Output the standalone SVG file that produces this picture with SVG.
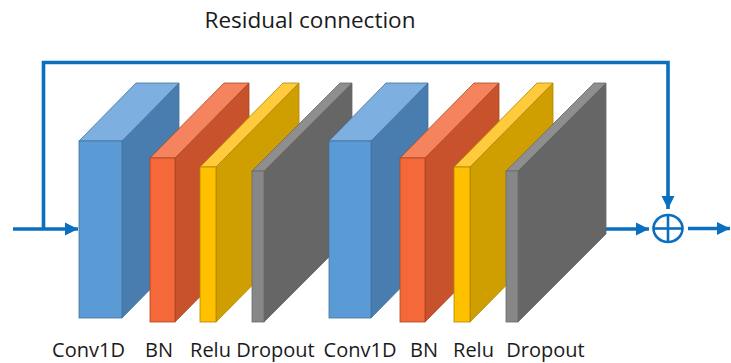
<svg xmlns="http://www.w3.org/2000/svg" width="731" height="363" viewBox="0 0 731 363">
<defs>
<style>
.lbl{font-family:"Open Sans","Liberation Sans",sans-serif;font-size:20px;fill:#1a1a1a;text-anchor:middle}
.title{font-family:"Open Sans","Liberation Sans",sans-serif;font-size:22.5px;fill:#1a1a1a;text-anchor:middle}
.conn{fill:none;stroke:#0B6FC0;stroke-width:3.6}
.blue .f{fill:#5B9BD5}.blue .t{fill:#7DB0E0}.blue .s{fill:#4A7DAF}.blue *{stroke:#41719C;stroke-width:0.8}
.orange .f{fill:#F4683A}.orange .t{fill:#F5845E}.orange .s{fill:#C7522B}.orange *{stroke:#A9461F;stroke-width:0.8}
.yellow .f{fill:#FFC000}.yellow .t{fill:#FFCB3C}.yellow .s{fill:#CF9E00}.yellow *{stroke:#B08600;stroke-width:0.8}
.gray .f{fill:#878787}.gray .t{fill:#8E8E8E}.gray .s{fill:#666666}.gray *{stroke:#6A6A6A;stroke-width:0.8}
</style>
<marker id="ah" markerUnits="userSpaceOnUse" markerWidth="14" markerHeight="14" viewBox="0 0 14 14" refX="13" refY="7" orient="auto">
<path d="M0,0.5 L13,7 L0,13.5 Z" fill="#0B6FC0"/>
</marker>
</defs>
<rect width="731" height="363" fill="#ffffff"/>
<text class="title" x="310" y="28">Residual connection</text>

<g id="conv1d-1" class="blue">
<polygon class="s" points="122,141 179,83 179,260 122,318"/>
<polygon class="t" points="79,141 122,141 179,83 136,83"/>
<rect class="f" x="79" y="141" width="43" height="177"/>
</g>
<g id="bn-1" class="orange">
<polygon class="s" points="175,158 249,83 249,247 175,322"/>
<polygon class="t" points="150,158 175,158 249,83 224,83"/>
<rect class="f" x="150" y="158" width="25" height="164"/>
</g>
<g id="relu-1" class="yellow">
<polygon class="s" points="216,167 299,83 299,238 216,322"/>
<polygon class="t" points="200,167 216,167 299,83 283,83"/>
<rect class="f" x="200" y="167" width="16" height="155"/>
</g>
<g id="dropout-1" class="gray">
<polygon class="s" points="264,171 352,83 352,234 264,322"/>
<polygon class="t" points="252,171 264,171 352,83 340,83"/>
<rect class="f" x="252" y="171" width="12" height="151"/>
</g>
<g id="conv1d-2" class="blue">
<polygon class="s" points="371,141 428,83 428,260 371,318"/>
<polygon class="t" points="329,141 371,141 428,83 386,83"/>
<rect class="f" x="329" y="141" width="42" height="177"/>
</g>
<g id="bn-2" class="orange">
<polygon class="s" points="425,158 499,83 499,247 425,322"/>
<polygon class="t" points="400,158 425,158 499,83 474,83"/>
<rect class="f" x="400" y="158" width="25" height="164"/>
</g>
<g id="relu-2" class="yellow">
<polygon class="s" points="470,167 553,83 553,238 470,322"/>
<polygon class="t" points="454,167 470,167 553,83 537,83"/>
<rect class="f" x="454" y="167" width="16" height="155"/>
</g>
<g id="dropout-2" class="gray">
<polygon class="s" points="518,171 606,83 606,234 518,322"/>
<polygon class="t" points="506,171 518,171 606,83 594,83"/>
<rect class="f" x="506" y="171" width="12" height="151"/>
</g>

<g id="add" fill="none" stroke="#0B6FC0" stroke-width="2.6">
<ellipse cx="668" cy="228.5" rx="14.5" ry="13.5"/>
<line x1="653.5" y1="228.5" x2="682.5" y2="228.5"/>
<line x1="668" y1="215" x2="668" y2="242"/>
</g>

<g id="connectors">
<path class="conn" d="M43.5,229 V62.5 H668 V209" marker-end="url(#ah)"/>
<path class="conn" d="M13,229 H78" marker-end="url(#ah)"/>
<path class="conn" d="M606,229 H649" marker-end="url(#ah)"/>
<path class="conn" d="M688,228.5 H730" marker-end="url(#ah)"/>
</g>

<g id="labels">
<text class="lbl" x="88.5" y="357">Conv1D</text>
<text class="lbl" x="159" y="357">BN</text>
<text class="lbl" x="210.5" y="357">Relu</text>
<text class="lbl" x="275.5" y="357">Dropout</text>
<text class="lbl" x="360" y="357">Conv1D</text>
<text class="lbl" x="424" y="357">BN</text>
<text class="lbl" x="473.5" y="357">Relu</text>
<text class="lbl" x="545.5" y="357">Dropout</text>
</g>
</svg>
